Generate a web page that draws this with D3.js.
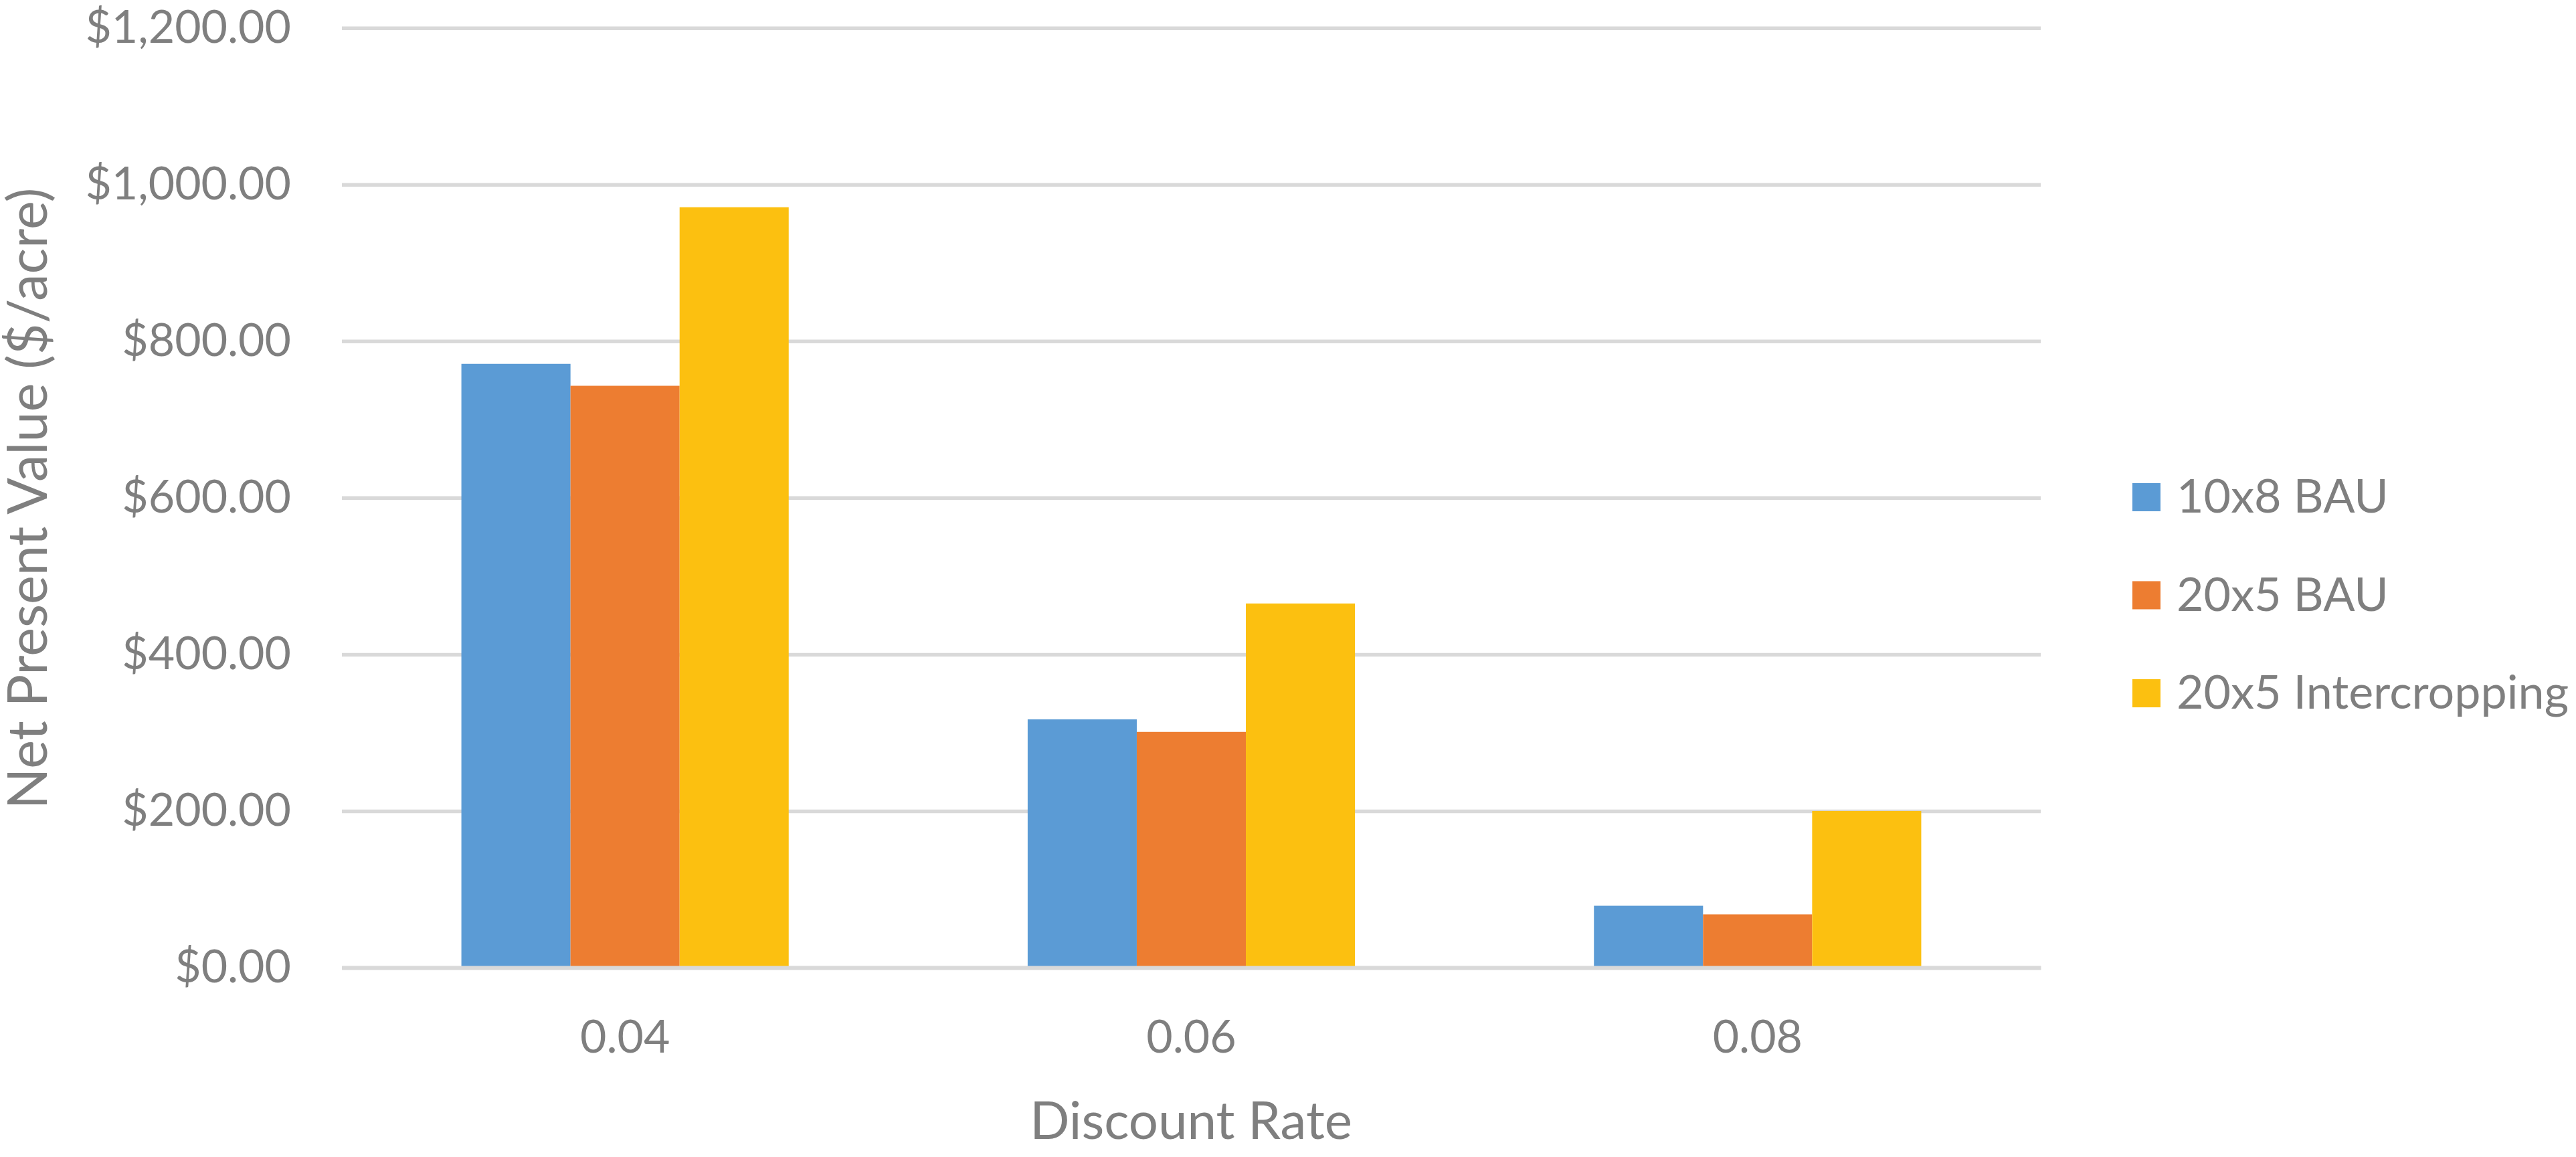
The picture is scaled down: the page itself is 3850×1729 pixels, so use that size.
<!DOCTYPE html>
<html>
<head>
<meta charset="utf-8">
<script src="https://cdn.jsdelivr.net/npm/d3@7"></script>
<style>
  html, body { margin: 0; padding: 0; background: #fff; }
  svg { display: block; font-family: Lato, "Open Sans", sans-serif; }
  .tick text { fill: #7f7f7f; }
</style>
</head>
<body>
<svg width="3850" height="1729"></svg>
<script>
var rates = ['0.04', '0.06', '0.08'];
var seriesNames = ['10x8 BAU', '20x5 BAU', '20x5 Intercropping'];
var bau10x8 = [771, 317, 79];
var bau20x5 = [743, 301, 68];
var inter20x5 = [971, 465, 200];
var yTicks = [0, 200, 400, 600, 800, 1000, 1200];
var colors = ['#5b9bd5', '#ed7d31', '#fcc010'];

var allSeries = [bau10x8, bau20x5, inter20x5];

var svg = d3.select('svg');
// plot area edges (note: "top" is a reserved window prop)
var plotLeft = 511, plotRight = 3050, plotTop = 41.7, plotBottom = 1446;

var x0 = d3.scaleBand()
  .domain(rates)
  .range([plotLeft, plotRight])
  .paddingInner(0.422)
  .paddingOuter(0.211);

var x1 = d3.scaleBand()
  .domain(d3.range(seriesNames.length))
  .range([0, x0.bandwidth()]);

var y = d3.scaleLinear()
  .domain([0, 1200])
  .range([plotBottom, plotTop]);

// gridlines + y labels
var yAxis = d3.axisLeft(y)
  .tickValues(yTicks)
  .tickFormat(d3.format('$,.2f'))
  .tickSize(-(plotRight - plotLeft))
  .tickPadding(76);

var yg = svg.append('g')
  .attr('transform', 'translate(' + plotLeft + ',0)')
  .call(yAxis);
yg.select('.domain').remove();
yg.selectAll('.tick line').attr('stroke', '#d9d9d9').attr('stroke-width', 5.5);
yg.selectAll('.tick text').attr('font-size', 68).attr('font-family', 'Lato');

// bars
var groups = svg.append('g').selectAll('g')
  .data(rates)
  .enter().append('g')
  .attr('transform', function(d) { return 'translate(' + x0(d) + ',0)'; });

groups.selectAll('rect')
  .data(function(d, i) {
    return allSeries.map(function(s, j) { return { key: j, value: s[i] }; });
  })
  .enter().append('rect')
  .attr('x', function(d) { return x1(d.key); })
  .attr('y', function(d) { return y(d.value); })
  .attr('width', x1.bandwidth())
  .attr('height', function(d) { return y(0) - y(d.value); })
  .attr('fill', function(d) { return colors[d.key]; });

// x axis
var xAxis = d3.axisBottom(x0).tickSize(0).tickPadding(79);
var xg = svg.append('g')
  .attr('transform', 'translate(0,' + plotBottom + ')')
  .call(xAxis);
xg.select('.domain').attr('stroke', '#d9d9d9').attr('stroke-width', 6);
xg.selectAll('.tick text').attr('font-size', 68).attr('font-family', 'Lato');

// axis titles
svg.append('text')
  .attr('transform', 'translate(70,745) rotate(-90)')
  .attr('text-anchor', 'middle')
  .attr('font-size', 81)
  .attr('fill', '#7f7f7f')
  .text('Net Present Value ($/acre)');

svg.append('text')
  .attr('x', 1780)
  .attr('y', 1702)
  .attr('text-anchor', 'middle')
  .attr('font-size', 78)
  .attr('fill', '#7f7f7f')
  .text('Discount Rate');

// legend
var legend = svg.append('g').selectAll('g')
  .data(seriesNames)
  .enter().append('g')
  .attr('transform', function(d, i) { return 'translate(3187,' + (743 + i * 146.5) + ')'; });

legend.append('rect')
  .attr('x', 0)
  .attr('y', -21)
  .attr('width', 42)
  .attr('height', 42)
  .attr('fill', function(d, i) { return colors[i]; });

legend.append('text')
  .attr('x', 66)
  .attr('y', 23)
  .attr('font-size', 70)
  .attr('fill', '#7f7f7f')
  .text(function(d) { return d; });
</script>
</body>
</html>
